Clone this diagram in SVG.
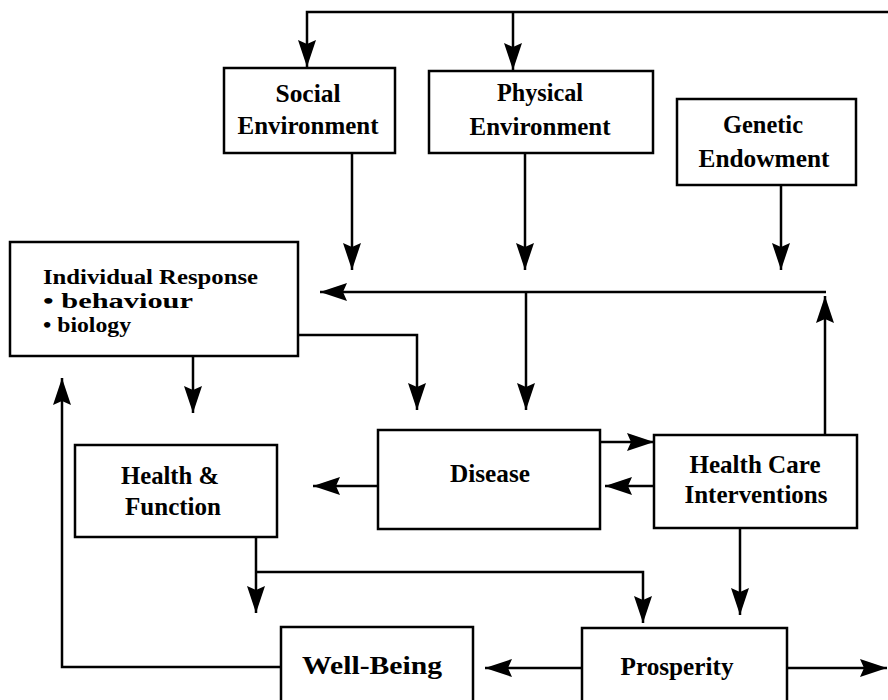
<svg xmlns="http://www.w3.org/2000/svg" width="888" height="700" viewBox="0 0 888 700">
<style>
.box{fill:#fff;stroke:#000;stroke-width:2.5}
.t{font-family:"Liberation Serif","DejaVu Serif","Times New Roman",serif;font-weight:bold;font-size:25px;fill:#000}
.s{font-size:20px}
.c{text-anchor:middle}
.ln{fill:none;stroke:#000;stroke-width:2.5}
</style>
<defs>
<marker id="ah" markerUnits="userSpaceOnUse" markerWidth="28" markerHeight="18" refX="27" refY="9" orient="auto">
<path d="M0,0 L27,9 L0,18 L4,9 z" fill="#000"/>
</marker>
</defs>
<rect width="888" height="700" fill="#fff"/>
<g id="connectors">
<path class="ln" d="M888,12 H307 V67" marker-end="url(#ah)"/>
<path class="ln" d="M513,12 V70" marker-end="url(#ah)"/>
<path class="ln" d="M352,153 V270" marker-end="url(#ah)"/>
<path class="ln" d="M525,153 V270" marker-end="url(#ah)"/>
<path class="ln" d="M781,185 V270" marker-end="url(#ah)"/>
<path class="ln" d="M825,435 V296" marker-end="url(#ah)"/>
<path class="ln" d="M826,292 H320" marker-end="url(#ah)"/>
<path class="ln" d="M526,292 V410" marker-end="url(#ah)"/>
<path class="ln" d="M298,335 H417 V410" marker-end="url(#ah)"/>
<path class="ln" d="M193,356 V413" marker-end="url(#ah)"/>
<path class="ln" d="M378,486 H313" marker-end="url(#ah)"/>
<path class="ln" d="M600,442 H654" marker-end="url(#ah)"/>
<path class="ln" d="M654,486 H605" marker-end="url(#ah)"/>
<path class="ln" d="M256,537 V613" marker-end="url(#ah)"/>
<path class="ln" d="M256,572 H643 V623" marker-end="url(#ah)"/>
<path class="ln" d="M740,528 V615" marker-end="url(#ah)"/>
<path class="ln" d="M582,668 H485" marker-end="url(#ah)"/>
<path class="ln" d="M787,668 H887" marker-end="url(#ah)"/>
<path class="ln" d="M281,667 H62 V378" marker-end="url(#ah)"/>
</g>
<g id="social">
<rect class="box" x="224" y="68" width="171" height="85"/>
<text class="t c" x="308" y="102" textLength="65" lengthAdjust="spacingAndGlyphs">Social</text>
<text class="t c" x="308" y="134" textLength="141" lengthAdjust="spacingAndGlyphs">Environment</text>
</g>
<g id="physical">
<rect class="box" x="429" y="71" width="224" height="82"/>
<text class="t c" x="540" y="101" textLength="86" lengthAdjust="spacingAndGlyphs">Physical</text>
<text class="t c" x="540" y="135" textLength="141" lengthAdjust="spacingAndGlyphs">Environment</text>
</g>
<g id="genetic">
<rect class="box" x="677" y="99" width="179" height="86"/>
<text class="t c" x="763" y="133" textLength="80" lengthAdjust="spacingAndGlyphs">Genetic</text>
<text class="t c" x="764" y="167" textLength="131" lengthAdjust="spacingAndGlyphs">Endowment</text>
</g>
<g id="individual">
<rect class="box" x="10" y="242" width="288" height="114"/>
<text class="t s" x="43" y="284" textLength="215" lengthAdjust="spacingAndGlyphs">Individual Response</text>
<text class="t s" x="43" y="308" textLength="150" lengthAdjust="spacingAndGlyphs">• behaviour</text>
<text class="t s" x="43" y="332" textLength="88" lengthAdjust="spacingAndGlyphs">• biology</text>
</g>
<g id="health-function">
<rect class="box" x="75" y="445" width="202" height="92"/>
<text class="t c" x="170" y="484" textLength="98" lengthAdjust="spacingAndGlyphs">Health &amp;</text>
<text class="t c" x="173" y="515" textLength="96" lengthAdjust="spacingAndGlyphs">Function</text>
</g>
<g id="disease">
<rect class="box" x="378" y="430" width="222" height="99"/>
<text class="t c" x="490" y="482" textLength="80" lengthAdjust="spacingAndGlyphs">Disease</text>
</g>
<g id="health-care">
<rect class="box" x="654" y="435" width="203" height="93"/>
<text class="t c" x="755" y="473" textLength="131" lengthAdjust="spacingAndGlyphs">Health Care</text>
<text class="t c" x="756" y="503" textLength="143" lengthAdjust="spacingAndGlyphs">Interventions</text>
</g>
<g id="well-being">
<rect class="box" x="281" y="627" width="192" height="80"/>
<text class="t" x="302" y="674" textLength="140" lengthAdjust="spacingAndGlyphs">Well-Being</text>
</g>
<g id="prosperity">
<rect class="box" x="582" y="628" width="205" height="80"/>
<text class="t c" x="677" y="675" textLength="113" lengthAdjust="spacingAndGlyphs">Prosperity</text>
</g>
</svg>
